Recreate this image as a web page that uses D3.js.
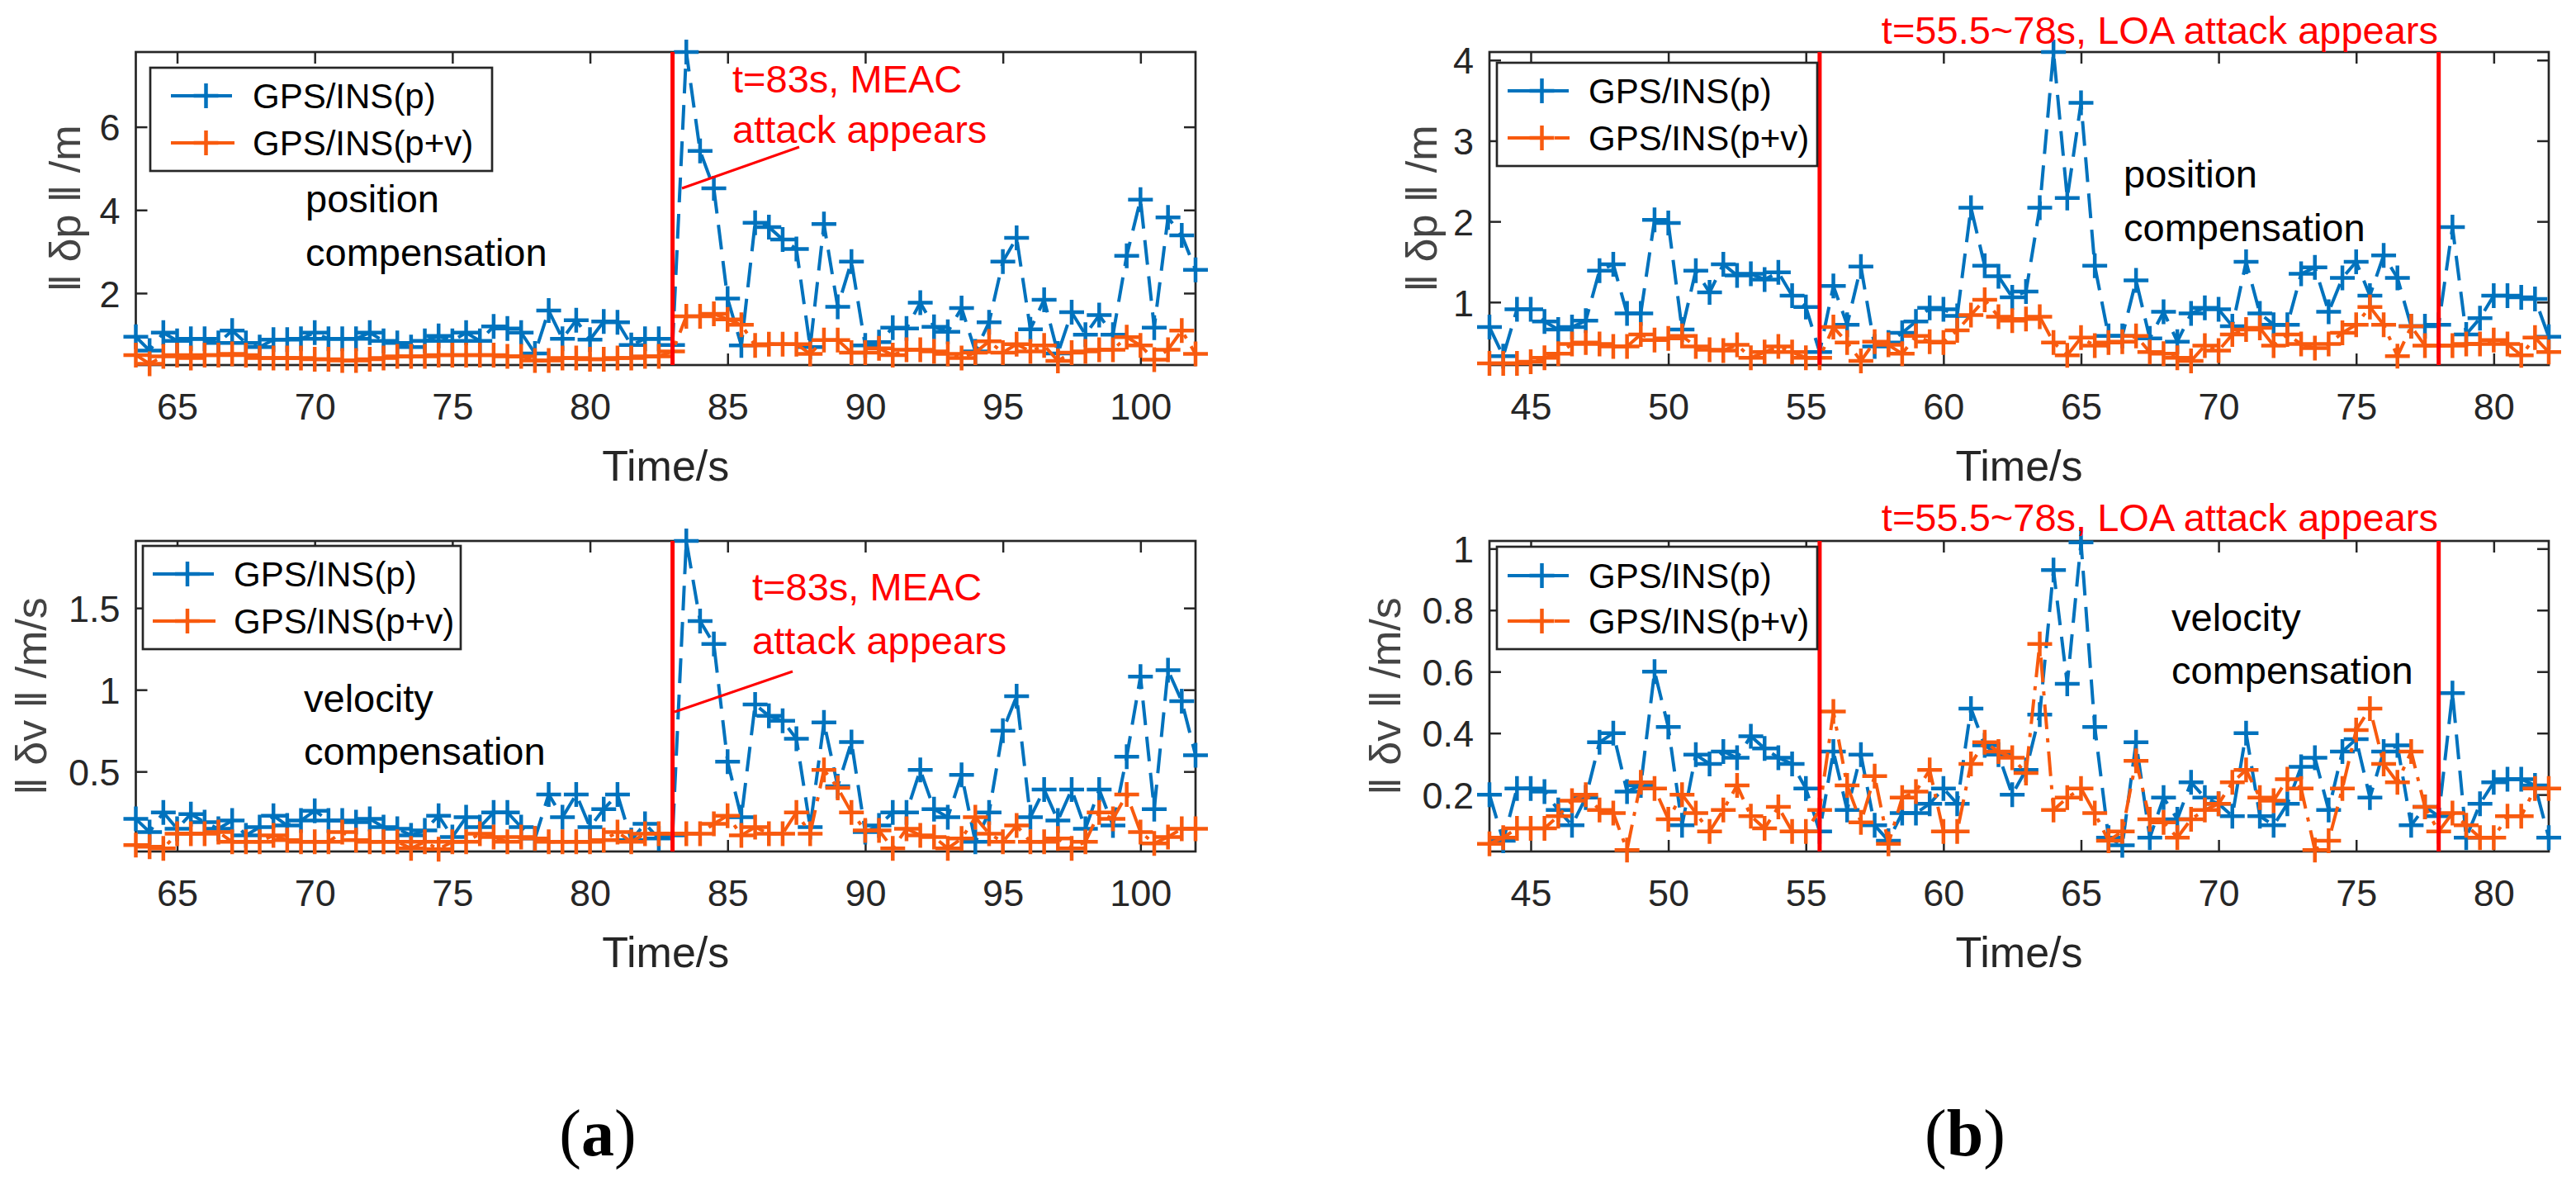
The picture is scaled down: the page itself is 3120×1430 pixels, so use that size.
<!DOCTYPE html>
<html><head><meta charset="utf-8">
<script src="https://cdn.jsdelivr.net/npm/d3@7"></script>
<style>
body{margin:0;background:#fff}
svg{display:block}
text{font-family:"Liberation Sans",Arial,Helvetica,sans-serif}
</style>
</head><body>
<svg id="c" width="3120" height="1430"></svg>
<script>
// ---------- DATA ----------
const timeA = [63.5,64,64.5,65,65.5,66,66.5,67,67.5,68,68.5,69,69.5,70,70.5,71,71.5,72,72.5,73,73.5,74,74.5,75,75.5,76,76.5,77,77.5,78,78.5,79,79.5,80,80.5,81,81.5,82,82.5,83,83.5,84,84.5,85,85.5,86,86.5,87,87.5,88,88.5,89,89.5,90,90.5,91,91.5,92,92.5,93,93.5,94,94.5,95,95.5,96,96.5,97,97.5,98,98.5,99,99.5,100,100.5,101,101.5,102];
const timeB = [43.5,44,44.5,45,45.5,46,46.5,47,47.5,48,48.5,49,49.5,50,50.5,51,51.5,52,52.5,53,53.5,54,54.5,55,55.5,56,56.5,57,57.5,58,58.5,59,59.5,60,60.5,61,61.5,62,62.5,63,63.5,64,64.5,65,65.5,66,66.5,67,67.5,68,68.5,69,69.5,70,70.5,71,71.5,72,72.5,73,73.5,74,74.5,75,75.5,76,76.5,77,77.5,78,78.5,79,79.5,80,80.5,81,81.5,82];

// (a) position error ||dp|| (m)
const posA_p  = [0.95,0.62,1.05,0.85,0.9,0.9,0.8,1.1,0.8,0.7,0.88,0.88,0.9,1.05,0.9,0.9,0.9,1.05,0.85,0.8,0.7,0.85,0.97,0.85,1.05,0.85,1.2,1.15,1.05,0.55,1.58,0.9,1.35,0.88,1.32,1.3,0.75,0.9,0.9,0.75,
                 7.8,5.42,4.52,1.87,0.74,3.69,3.59,3.29,3.06,0.7,3.66,1.67,2.76,0.74,0.82,1.17,1.15,1.77,1.19,1.07,1.64,0.6,1.3,2.76,3.33,1.13,1.84,0.55,1.54,1.0,1.47,1.0,2.9,4.25,1.17,3.82,3.39,2.56];
const posA_pv = [0.51,0.3,0.48,0.51,0.44,0.51,0.51,0.54,0.51,0.44,0.44,0.44,0.44,0.41,0.41,0.38,0.38,0.41,0.44,0.48,0.48,0.48,0.51,0.51,0.51,0.51,0.51,0.48,0.48,0.38,0.38,0.44,0.44,0.41,0.41,0.44,0.44,0.48,0.48,0.6,
                 1.44,1.44,1.5,1.37,1.24,0.74,0.77,0.77,0.77,0.54,0.87,0.87,0.57,0.57,0.67,0.51,0.64,0.64,0.6,0.54,0.44,0.57,0.84,0.57,0.77,0.6,0.74,0.37,0.57,0.6,0.64,0.64,0.94,0.74,0.4,0.64,1.1,0.54];
// (a) velocity error ||dv|| (m/s)
const velA_p  = [0.21,0.13,0.25,0.15,0.24,0.19,0.15,0.2,0.11,0.16,0.23,0.17,0.2,0.26,0.2,0.2,0.19,0.21,0.16,0.15,0.11,0.14,0.23,0.1,0.22,0.16,0.25,0.25,0.16,0.09,0.36,0.22,0.36,0.16,0.27,0.36,0.08,0.18,0.09,0.11,
                 1.91,1.42,1.28,0.56,0.22,0.91,0.84,0.81,0.7,0.16,0.8,0.41,0.68,0.13,0.17,0.25,0.25,0.51,0.27,0.22,0.48,0.07,0.25,0.75,0.96,0.22,0.39,0.2,0.39,0.15,0.39,0.17,0.59,1.08,0.27,1.12,0.93,0.6];
const velA_pv = [0.05,0.04,0.03,0.12,0.12,0.12,0.13,0.07,0.07,0.07,0.11,0.08,0.07,0.07,0.07,0.13,0.08,0.07,0.07,0.07,0.03,0.07,0.025,0.07,0.07,0.12,0.1,0.07,0.1,0.09,0.07,0.07,0.07,0.07,0.08,0.13,0.07,0.12,0.12,0.12,
                 0.12,0.12,0.18,0.23,0.11,0.16,0.12,0.12,0.25,0.12,0.51,0.4,0.25,0.14,0.14,0.03,0.15,0.11,0.1,0.03,0.09,0.22,0.12,0.07,0.17,0.07,0.07,0.09,0.03,0.07,0.25,0.21,0.36,0.13,0.06,0.1,0.15,0.15];
// (b) position error
const posB_p  = [0.69,0.33,0.91,0.91,0.76,0.66,0.69,0.77,1.39,1.47,0.86,0.86,2.02,1.98,0.66,1.39,1.12,1.47,1.33,1.35,1.28,1.37,1.08,0.94,0.38,
                 1.2,0.72,1.44,0.45,0.5,0.62,0.76,0.93,0.91,0.83,
                 2.17,1.45,1.32,1.06,1.13,2.17,4.1,2.29,3.47,1.45,
                 0.58,0.58,1.27,0.55,0.88,0.51,0.86,0.93,0.91,0.7,
                 1.5,0.86,0.72,0.72,1.35,1.43,0.88,1.3,1.5,1.08,
                 1.58,1.3,0.7,0.7,0.72,1.93,0.6,0.8,1.08,1.08,
                 1.06,1.04,0.57];
const posB_pv = [0.24,0.24,0.24,0.26,0.31,0.36,0.48,0.5,0.48,0.45,0.45,0.6,0.53,0.55,0.58,0.45,0.41,0.4,0.47,0.31,0.38,0.45,0.38,0.31,0.31,
                 0.69,0.5,0.27,0.51,0.47,0.36,0.58,0.51,0.5,0.65,
                 0.84,1.03,0.82,0.77,0.79,0.82,0.5,0.34,0.56,0.46,
                 0.5,0.51,0.58,0.38,0.36,0.31,0.27,0.46,0.4,0.6,
                 0.66,0.68,0.46,0.6,0.48,0.43,0.48,0.62,0.72,0.94,
                 0.72,0.33,0.7,0.46,0.46,0.46,0.48,0.48,0.53,0.48,
                 0.34,0.56,0.38];
// (b) velocity error
const velB_p  = [0.2,0.05,0.22,0.22,0.21,0.15,0.1,0.19,0.37,0.4,0.21,0.23,0.6,0.42,0.1,0.33,0.3,0.34,0.32,0.39,0.35,0.32,0.3,0.22,0.08,
                 0.34,0.15,0.33,0.1,0.05,0.14,0.14,0.17,0.22,0.17,
                 0.48,0.36,0.33,0.2,0.28,0.46,0.93,0.56,1.02,0.42,
                 0.06,0.035,0.37,0.06,0.19,0.12,0.24,0.19,0.17,0.13,
                 0.4,0.13,0.1,0.17,0.29,0.32,0.15,0.34,0.38,0.19,
                 0.34,0.36,0.1,0.16,0.13,0.53,0.06,0.17,0.24,0.25,
                 0.25,0.23,0.06];
const velB_pv = [0.04,0.06,0.09,0.09,0.09,0.13,0.18,0.2,0.15,0.14,0.02,0.24,0.22,0.12,0.2,0.14,0.08,0.15,0.23,0.13,0.09,0.16,0.08,0.08,0.15,
                 0.47,0.23,0.11,0.26,0.04,0.19,0.21,0.28,0.08,0.08,
                 0.3,0.37,0.34,0.32,0.27,0.69,0.15,0.19,0.22,0.14,
                 0.05,0.08,0.31,0.12,0.11,0.06,0.12,0.15,0.17,0.24,
                 0.28,0.19,0.18,0.25,0.22,0.02,0.05,0.22,0.41,0.48,
                 0.3,0.24,0.34,0.16,0.08,0.14,0.1,0.06,0.06,0.13,
                 0.13,0.22,0.22];

const seriesNames = ["GPS/INS(p)", "GPS/INS(p+v)"];
const xTicksA = [65,70,75,80,85,90,95,100];
const xTicksB = [45,50,55,60,65,70,75,80];
const yTicksPosA = [2,4,6];
const yTicksVelA = [0.5,1,1.5];
const yTicksPosB = [1,2,3,4];
const yTicksVelB = [0.2,0.4,0.6,0.8,1];
const attackA = [83];
const attackB = [55.5, 78];
const yLabelPos = "‖ δp ‖ /m";
const yLabelVel = "‖ δv ‖ /m/s";
const xLabel = "Time/s";
const noteA = ["t=83s, MEAC", "attack appears"];
const noteB = "t=55.5~78s, LOA attack appears";

// ---------- STYLE ----------
const BLUE = "#0072BD", ORANGE = "#F85A0E", RED = "#FF0000", AX = "#262626";
const svg = d3.select("#c");

function plus(g, x, y, color){
  g.append("path").attr("d", `M${x-15},${y}H${x+15}M${x},${y-15}V${y+15}`)
   .attr("stroke", color).attr("stroke-width", 4.5).attr("fill","none");
}

function panel(cfg){
  const g = svg.append("g");
  const x = d3.scaleLinear().domain(cfg.xd).range([cfg.L, cfg.R]);
  const y = d3.scaleLinear().domain(cfg.yd).range([cfg.B, cfg.T]);
  const W = cfg.R - cfg.L, H = cfg.B - cfg.T;

  // axes (ticks inward on all sides)
  const bx = g.append("g").attr("transform",`translate(0,${cfg.B})`)
    .call(d3.axisBottom(x).tickValues(cfg.xt).tickSize(-14).tickSizeOuter(0).tickFormat(d3.format("d")));
  bx.selectAll("text").attr("y", 66).attr("dy", 0).attr("font-size", 45).attr("fill", AX);
  g.append("g").attr("transform",`translate(0,${cfg.T})`)
    .call(d3.axisTop(x).tickValues(cfg.xt).tickSize(-14).tickSizeOuter(0).tickFormat(""));
  const ly = g.append("g").attr("transform",`translate(${cfg.L},0)`)
    .call(d3.axisLeft(y).tickValues(cfg.yt).tickSize(-14).tickSizeOuter(0).tickPadding(19).tickFormat(d3.format("~g")));
  ly.selectAll("text").attr("font-size", 45).attr("fill", AX).attr("dy","0.36em");
  g.append("g").attr("transform",`translate(${cfg.R},0)`)
    .call(d3.axisRight(y).tickValues(cfg.yt).tickSize(-14).tickSizeOuter(0).tickFormat(""));
  g.selectAll(".domain").remove();
  g.selectAll(".tick line").attr("stroke", AX).attr("stroke-width", 2.5);
  g.append("rect").attr("x",cfg.L).attr("y",cfg.T).attr("width",W).attr("height",H)
    .attr("fill","none").attr("stroke",AX).attr("stroke-width",2.7);

  // labels
  g.append("text").attr("x",(cfg.L+cfg.R)/2).attr("y",cfg.B+140).attr("text-anchor","middle")
    .attr("font-size",52).attr("fill",AX).text(xLabel);
  g.append("text").attr("transform",`translate(${cfg.ylx},${(cfg.T+cfg.B)/2}) rotate(-90)`)
    .attr("text-anchor","middle").attr("dominant-baseline","central")
    .attr("font-size",52).attr("fill","#444").text(cfg.ylab);

  // data
  const ser = [{v:cfg.s1, c:BLUE, dash:"30,14"},{v:cfg.s2, c:ORANGE, dash:"30,11,5,11"}];
  ser.forEach(s=>{
    const pts = cfg.t.map((t,i)=>[t, s.v[i]]).filter(d=>d[1]!==undefined);
    g.append("path").datum(pts)
      .attr("d", d3.line().x(d=>x(d[0])).y(d=>y(d[1])))
      .attr("fill","none").attr("stroke",s.c).attr("stroke-width",4)
      .attr("stroke-dasharray",s.dash);
    const mg = g.append("g");
    pts.forEach(d=>plus(mg, x(d[0]), y(d[1]), s.c));
  });

  // attack lines
  cfg.attack.forEach(a=>{
    g.append("line").attr("x1",x(a)).attr("x2",x(a)).attr("y1",cfg.T).attr("y2",cfg.B)
     .attr("stroke",RED).attr("stroke-width",5);
  });

  // comments
  cfg.notes.forEach(n=>{
    g.append("text").attr("x",n.x).attr("y",n.y).attr("font-size",n.fs||47)
     .attr("fill",n.c||"#000").attr("text-anchor",n.a||"start").text(n.t);
  });
  if(cfg.arrow){
    g.append("line").attr("x1",cfg.arrow[0]).attr("y1",cfg.arrow[1]).attr("x2",cfg.arrow[2]).attr("y2",cfg.arrow[3])
     .attr("stroke",RED).attr("stroke-width",3);
  }

  // legend
  const lg = cfg.leg;
  const lgG = g.append("g");
  lgG.append("rect").attr("x",lg.x0).attr("y",lg.y0).attr("width",lg.x1-lg.x0).attr("height",lg.y1-lg.y0)
    .attr("fill","#fff").attr("stroke",AX).attr("stroke-width",2.7);
  ser.forEach((s,i)=>{
    const yy = lg.rows[i];
    lgG.append("line").attr("x1",lg.s0).attr("x2",lg.s1).attr("y1",yy).attr("y2",yy)
      .attr("stroke",s.c).attr("stroke-width",4).attr("stroke-dasharray",s.dash);
    plus(lgG,(lg.s0+lg.s1)/2+4,yy,s.c);
    lgG.append("text").attr("x",lg.tx).attr("y",yy).attr("dominant-baseline","central")
      .attr("font-size",42).attr("fill","#000").text(seriesNames[i]);
  });
}

// (a) top
panel({L:164.5,R:1448,T:63,B:442,xd:[63.5,102],yd:[0.27,7.8],xt:xTicksA,yt:yTicksPosA,
  t:timeA,s1:posA_p,s2:posA_pv,attack:attackA,ylab:yLabelPos,ylx:79,
  notes:[{t:noteA[0],x:887,y:112,c:RED},{t:noteA[1],x:887,y:173,c:RED},
         {t:"position",x:370,y:257},{t:"compensation",x:370,y:322}],
  arrow:[826,228,968,178],
  leg:{x0:182,y0:82,x1:596,y1:207,rows:[116,173],s0:207,s1:284,tx:306}});
// (a) bottom
panel({L:164.5,R:1448,T:655,B:1031,xd:[63.5,102],yd:[0.011,1.91],xt:xTicksA,yt:yTicksVelA,
  t:timeA,s1:velA_p,s2:velA_pv,attack:attackA,ylab:yLabelVel,ylx:38,
  notes:[{t:noteA[0],x:911,y:727,c:RED},{t:noteA[1],x:911,y:792,c:RED},
         {t:"velocity",x:368,y:862},{t:"compensation",x:368,y:926}],
  arrow:[817,862,960,813],
  leg:{x0:173,y0:661,x1:558,y1:786,rows:[695,752],s0:185,s1:261,tx:283}});
// (b) top
panel({L:1804,R:3087,T:63,B:442,xd:[43.5,82],yd:[0.22,4.1],xt:xTicksB,yt:yTicksPosB,
  t:timeB,s1:posB_p,s2:posB_pv,attack:attackB,ylab:yLabelPos,ylx:1722,
  notes:[{t:noteB,x:2953,y:53,c:RED,a:"end"},
         {t:"position",x:2572,y:227},{t:"compensation",x:2572,y:292}],
  leg:{x0:1813,y0:76,x1:2201,y1:201,rows:[110,167],s0:1826,s1:1901,tx:1924}});
// (b) bottom
panel({L:1804,R:3087,T:655,B:1031,xd:[43.5,82],yd:[0.015,1.025],xt:xTicksB,yt:yTicksVelB,
  t:timeB,s1:velB_p,s2:velB_pv,attack:attackB,ylab:yLabelVel,ylx:1678,
  notes:[{t:noteB,x:2953,y:643,c:RED,a:"end"},
         {t:"velocity",x:2630,y:764},{t:"compensation",x:2630,y:828}],
  leg:{x0:1813,y0:662,x1:2201,y1:786,rows:[697,752],s0:1826,s1:1901,tx:1924}});

// sub-figure captions
[["a",724],["b",2380]].forEach(([s,cx])=>{
  const t = svg.append("text").attr("x",cx).attr("y",1399).attr("text-anchor","middle")
    .attr("font-size",80).attr("style","font-family:'Liberation Serif','DejaVu Serif','Times New Roman',serif").attr("fill","#000");
  t.append("tspan").attr("font-weight","normal").text("(");
  t.append("tspan").attr("font-weight","bold").text(s);
  t.append("tspan").attr("font-weight","normal").text(")");
});
</script>
</body></html>
